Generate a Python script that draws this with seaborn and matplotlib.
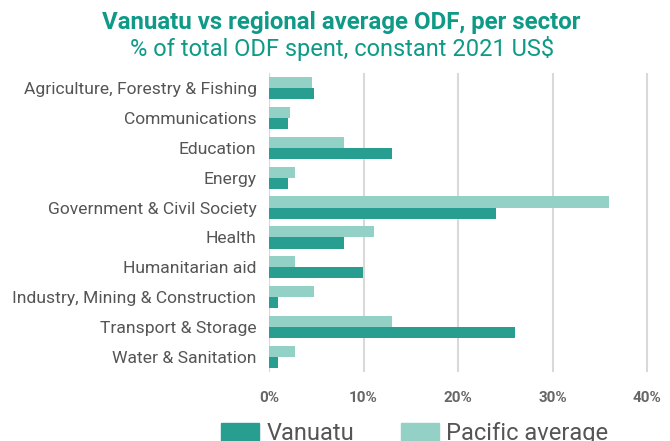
import numpy as np
import pandas as pd
import seaborn as sns
import matplotlib.pyplot as plt
from matplotlib.patches import Patch

# data (% of total ODF)
sectors = [
    "Agriculture, Forestry & Fishing",
    "Communications",
    "Education",
    "Energy",
    "Government & Civil Society",
    "Health",
    "Humanitarian aid",
    "Industry, Mining & Construction",
    "Transport & Storage",
    "Water & Sanitation",
]
vanuatu = [4.8, 2.0, 13.0, 2.0, 24.0, 7.9, 9.9, 1.0, 26.0, 1.0]
pacific = [4.6, 2.2, 7.9, 2.8, 36.0, 11.1, 2.8, 4.8, 13.0, 2.8]

c_van = "#289e91"
c_pac = "#93d1c7"
teal = "#0f9a88"
grey = "#555555"

df = pd.DataFrame({"sector": sectors * 2,
                   "share": pacific + vanuatu,
                   "series": ["Pacific average"] * len(sectors) + ["Vanuatu"] * len(sectors)})

sns.set_style("white")
plt.rcParams["font.family"] = ["Roboto", "DejaVu Sans"]

fig = plt.figure(figsize=(6.7, 4.41), dpi=100)
ax = fig.add_axes([269 / 670, 1 - 372 / 441, (649 - 269) / 670, (372 - 73) / 441])

sns.barplot(data=df, y="sector", x="share", hue="series", orient="h",
            palette={"Pacific average": c_pac, "Vanuatu": c_van},
            hue_order=["Pacific average", "Vanuatu"], width=0.74,
            saturation=1, linewidth=0, ax=ax, legend=False)

ax.set_xlim(0, 40.2)
ax.set_xticks([0, 10, 20, 30, 40])
ax.set_xticklabels(["0%", "10%", "20%", "30%", "40%"], fontsize=11, fontweight="bold", color="#666666")
ax.tick_params(axis="x", length=0, pad=14)
ax.tick_params(axis="y", length=0, pad=9, labelsize=12.6, labelcolor=grey)
ax.set_xlabel("")
ax.set_ylabel("")
ax.grid(axis="x", color="#d9d9d9", linewidth=1.5)
ax.set_axisbelow(True)
for s in ax.spines.values():
    s.set_visible(False)
ax.axvline(0, color="#d9d9d9", linewidth=1.5, zorder=0)

fig.text(0.51, 0.948, "Vanuatu vs regional average ODF, per sector", ha="center", va="center",
         fontsize=17.3, fontweight="bold", color=teal)
fig.text(0.51, 0.891, "% of total ODF spent, constant 2021 US$", ha="center", va="center",
         fontsize=17, color=teal)

handles = [Patch(color=c_van, label="Vanuatu"), Patch(color=c_pac, label="Pacific average")]
fig.legend(handles=handles, loc="upper left", bbox_to_anchor=(212 / 670, 1 - 413 / 441),
           ncol=2, frameon=False, fontsize=17, labelcolor=grey, handlelength=1.6,
           handleheight=0.9, columnspacing=2.0, handletextpad=0.3, borderaxespad=0)

fig.savefig("out.png", dpi=100)
